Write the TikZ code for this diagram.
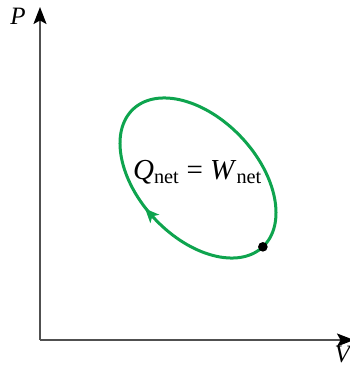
\documentclass[tikz,border=0pt]{standalone}
\usepackage{fontspec}
\setmainfont{Liberation Serif}
\usetikzlibrary{arrows.meta,decorations.markings}
\definecolor{cycleGreen}{RGB}{14,164,78}
\definecolor{axisGray}{RGB}{80,80,80}

\begin{document}
\begin{tikzpicture}[x=1pt, y=1pt]
    \useasboundingbox (0,0) rectangle (350,373);
    \coordinate (O) at (40,33);
    \coordinate (P) at (40,366);
    \coordinate (V) at (354,33);
    \coordinate (C) at (198,195);
    \path (C) ++(-46.7:94.6) coordinate (D);
    \draw[axisGray, line width=1.8pt, -{Stealth[color=black, length=17pt, width=13pt, inset=3.5pt]}] (O) -- (P);
    \draw[axisGray, line width=1.8pt, -{Stealth[color=black, length=17pt, width=13pt, inset=3.5pt]}] (O) -- (V);
    \draw[cycleGreen, line width=3pt, postaction={decorate},
        decoration={markings, mark=at position 0.75 with {\arrow{Stealth[reversed, length=14pt, width=12pt, inset=3.5pt]}}}]
        (C) ellipse [x radius=94.6, y radius=59.5, rotate=-46.7];
    \fill (D) circle (4.8);
    \node[anchor=base, font=\fontsize{29}{32}\selectfont] (label) at (197.5,193) {\textit{Q}\textsubscript{net} = \textit{W}\textsubscript{net}};
    \node[font=\fontsize{25}{28}\selectfont\itshape] (Plabel) at (18,357) {P};
    \node[anchor=north east, font=\fontsize{25}{28}\selectfont\itshape, inner sep=0pt] (Vlabel) at (350,27) {V};
\end{tikzpicture}
\end{document}
